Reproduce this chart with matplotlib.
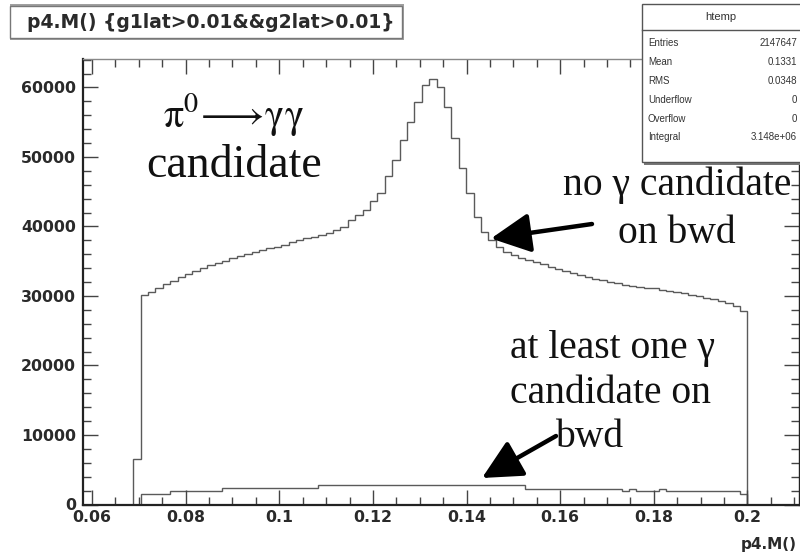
import numpy as np
import matplotlib
matplotlib.use("Agg")
import matplotlib.pyplot as plt
from matplotlib.patches import Rectangle, FancyArrowPatch
from matplotlib.lines import Line2D
from matplotlib.font_manager import FontProperties

# ---------------- data ----------------
x_start, x_stop, n_bins = 0.0688, 0.2, 83

main_counts = [
    6600,
    30100, 30600, 31100, 31700, 32200, 32700, 33200, 33600, 34000, 34400,
    34800, 35100, 35500, 35800, 36100, 36300, 36600, 36900, 37100, 37400,
    37700, 38000, 38300, 38500, 38800, 39100, 39500, 39900,
    40900, 41650, 42400, 43600, 44800, 47200, 49600, 52450, 55100, 57950,
    60350, 61150, 60100, 57250, 52700, 48400, 44800, 41400, 39250, 38100,
    37100, 36400,
    35900, 35500, 35200, 34900, 34600, 34200, 33900, 33600, 33300, 33000,
    32700, 32500, 32300, 32000, 31800, 31600, 31500, 31300, 31200, 31100,
    30900, 30700, 30600, 30400, 30200, 30000, 29700, 29500, 29300, 29000,
    28600, 27900,
]

bwd_counts = (
    [0] + [1480] * 4 + [1960] * 7 + [2390] * 13 + [2780] * 28
    + [2300] * 13 + [1960, 2250, 1960, 1960, 1960, 2250] + [1960] * 10 + [1480]
)

x_ticks = [0.06, 0.08, 0.10, 0.12, 0.14, 0.16, 0.18, 0.20]
x_tick_labels = ["0.06", "0.08", "0.1", "0.12", "0.14", "0.16", "0.18", "0.2"]
y_ticks = [0, 10000, 20000, 30000, 40000, 50000, 60000]
y_tick_labels = ["0", "10000", "20000", "30000", "40000", "50000", "60000"]

stats_rows = [("Entries", "2147647"), ("Mean", "0.1331"), ("RMS", "0.0348"),
              ("Underflow", "0"), ("Overflow", "0"), ("Integral", "3.148e+06")]

title_text = "p4.M() {g1lat>0.01&&g2lat>0.01}"
x_label = "p4.M()"

# ---------------- figure ----------------
W, H = 800, 553
fig = plt.figure(figsize=(8.0, 5.53), dpi=100)
fig.patch.set_facecolor("white")
plt.rcParams["mathtext.fontset"] = "stix"

def fp(x, y):
    """pixel (from top-left) -> figure fraction"""
    return (x / W, 1 - y / H)

ax_l, ax_r, ax_t, ax_b = 83, 799, 58.5, 504.5
ax = fig.add_axes([ax_l / W, 1 - ax_b / H, (ax_r - ax_l) / W, (ax_b - ax_t) / H])

edges = np.linspace(x_start, x_stop, n_bins + 1)
ax.stairs(main_counts, edges, baseline=0, color="#5a5a5a", lw=1.0)
ax.stairs(bwd_counts, edges, baseline=0, color="#5a5a5a", lw=1.0)

ax.set_xlim(0.05808, 0.2110)
ax.set_ylim(0, 64170)

ax.set_xticks(x_ticks)
ax.set_xticklabels(x_tick_labels)
ax.set_yticks(y_ticks)
ax.set_yticklabels(y_tick_labels)
ax.set_xticks(np.arange(0.06, 0.2101, 0.005), minor=True)
ax.set_yticks(np.arange(0, 64001, 2000), minor=True)

tick_fp = FontProperties(family="DejaVu Sans", weight="bold", size=11.3)
for lab in ax.get_xticklabels() + ax.get_yticklabels():
    lab.set_fontproperties(tick_fp)
    lab.set_color("#2a2a2a")

ax.tick_params(which="both", direction="in", top=True, right=True,
               color="#444444", width=1.0)
ax.tick_params(which="major", length=11, pad=4)
ax.tick_params(which="minor", length=6)
ax.tick_params(axis="y", pad=5)

for side, sp in ax.spines.items():
    sp.set_color("#222222")
    sp.set_linewidth(1.6 if side in ("left", "bottom") else 1.0)
ax.spines["top"].set_color("#888888")

# x axis label at right end
fig.text(*fp(741, 545), x_label, fontproperties=FontProperties(
    family="DejaVu Sans", weight="bold", size=11), color="#2a2a2a",
    ha="left", va="center")

# ---------------- title box ----------------
fig.patches.append(Rectangle(fp(10, 40), 394 / W, 36 / H, transform=fig.transFigure,
                             facecolor="#a0a0a0", edgecolor="none", zorder=1))
fig.patches.append(Rectangle(fp(10, 38), 392 / W, 32 / H, transform=fig.transFigure,
                             facecolor="white", edgecolor="#777777", lw=1.0, zorder=2))
fig.text(*fp(211, 22.5), title_text, fontproperties=FontProperties(
    family="DejaVu Sans", weight="bold", size=13.5), color="#2a2a2a",
    ha="center", va="center", zorder=3)

# ---------------- stats box ----------------
fig.patches.append(Rectangle(fp(644, 165), 160 / W, 160 / H, transform=fig.transFigure,
                             facecolor="#777777", edgecolor="none", zorder=4))
fig.patches.append(Rectangle(fp(642, 162), 160 / W, 158 / H, transform=fig.transFigure,
                             facecolor="white", edgecolor="#555555", lw=1.0, zorder=5))
fig.lines.append(Line2D([642 / W, 800 / W], [1 - 30 / H, 1 - 30 / H],
                        transform=fig.transFigure, color="#555555", lw=1.0, zorder=6))
fig.text(*fp(721, 17), "htemp", fontsize=8, family="Liberation Sans",
         color="#333333", ha="center", va="center", zorder=7)
row_y = [43, 62, 81, 100, 118.5, 137]
for (k, v), yy in zip(stats_rows, row_y):
    fig.text(*fp(648, yy), k, fontsize=7, family="Liberation Sans",
             color="#333333", ha="left", va="center", zorder=7)
    fig.text(*fp(797, yy), v, fontsize=7, family="Liberation Sans",
             color="#333333", ha="right", va="center", zorder=7)

# ---------------- annotations ----------------
serif = "Liberation Serif"
fig.text(*fp(233, 127), r"$\mathrm{\pi}^{0}\!\longrightarrow\!\mathrm{\gamma\gamma}$",
         fontsize=29, color="#111111", ha="center", va="baseline")
fig.text(*fp(234, 177), "candidate", fontsize=33, family=serif,
         color="#111111", ha="center", va="baseline")

fig.text(*fp(677, 195), "no γ candidate", fontsize=28.5, family=serif,
         color="#111111", ha="center", va="baseline")
fig.text(*fp(677, 243), "on bwd", fontsize=28.5, family=serif,
         color="#111111", ha="center", va="baseline")

fig.text(*fp(612, 358), "at least one γ", fontsize=28.5, family=serif,
         color="#111111", ha="center", va="baseline")
fig.text(*fp(610, 403), "candidate on", fontsize=28.5, family=serif,
         color="#111111", ha="center", va="baseline")
fig.text(*fp(589, 447), "bwd", fontsize=28.5, family=serif,
         color="#111111", ha="center", va="baseline")

arrow_kw = dict(arrowstyle="-|>,head_length=1.1,head_width=0.55", color="black",
                lw=3.2, mutation_scale=22, shrinkA=0, shrinkB=0)
fig.add_artist(FancyArrowPatch(fp(592, 224), fp(491, 238.5),
                               transform=fig.transFigure, **arrow_kw))
fig.add_artist(FancyArrowPatch(fp(556, 436), fp(482, 478),
                               transform=fig.transFigure, **arrow_kw))

fig.savefig("out.png", dpi=100, facecolor="white")
